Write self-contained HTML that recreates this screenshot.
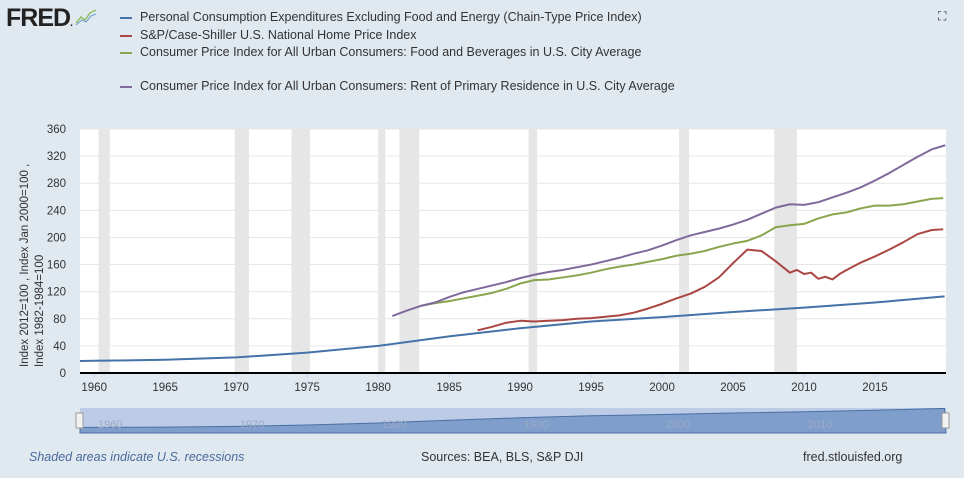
<!DOCTYPE html>
<html><head><meta charset="utf-8">
<style>
body{margin:0;width:964px;height:478px;background:#e1e9f0;font-family:"Liberation Sans",sans-serif;overflow:hidden;position:relative}
.leg{position:absolute;left:120px;font-size:12.5px;color:#333;white-space:nowrap}
.leg span{display:inline-block;width:12px;height:2px;vertical-align:middle;margin-right:8px}
</style></head><body>
<div style="position:absolute;left:6px;top:4px;font:bold 25px 'Liberation Sans',sans-serif;color:#222;letter-spacing:-1px">FRED<span style="font-size:10px">.</span><svg width="22" height="18" style="margin-left:3px"><polyline points="1,15 6,9 10,12 15,5 21,2" fill="none" stroke="#8fc160" stroke-width="1.5"/><polyline points="1,17 7,12 11,14 16,8 21,6" fill="none" stroke="#6a9ad0" stroke-width="1"/></svg></div>
<div class="leg" style="top:10px"><span style="background:#4572a7"></span>Personal Consumption Expenditures Excluding Food and Energy (Chain-Type Price Index)</div>
<div class="leg" style="top:28px"><span style="background:#aa4643"></span>S&amp;P/Case-Shiller U.S. National Home Price Index</div>
<div class="leg" style="top:45px"><span style="background:#89a54e"></span>Consumer Price Index for All Urban Consumers: Food and Beverages in U.S. City Average</div>
<div class="leg" style="top:79px"><span style="background:#80699b"></span>Consumer Price Index for All Urban Consumers: Rent of Primary Residence in U.S. City Average</div>
<div style="position:absolute;left:938px;top:9px;width:12px;height:12px;font-size:12px;color:#333">⛶</div>
<svg id="c" width="964" height="478" style="position:absolute;left:0;top:0"></svg>
<div style="position:absolute;left:29px;top:450px;font-size:12.5px;font-style:italic;color:#4a6a9a">Shaded areas indicate U.S. recessions</div>
<div style="position:absolute;left:421px;top:450px;font-size:12.5px;color:#333">Sources: BEA, BLS, S&amp;P DJI</div>
<div style="position:absolute;left:803px;top:450px;font-size:12.5px;color:#333">fred.stlouisfed.org</div>
<script>
const yTicks=[0,40,80,120,160,200,240,280,320,360];
const xTicks=[1960,1965,1970,1975,1980,1985,1990,1995,2000,2005,2010,2015];
const navTicks=[1960,1970,1980,1990,2000,2010];
const recessions=[[1960.3,1961.1],[1969.9,1970.9],[1973.9,1975.2],[1980.0,1980.5],[1981.5,1982.9],[1990.6,1991.2],[2001.2,2001.9],[2007.9,2009.5]];
const pceYears=[1959,1960,1965,1970,1975,1980,1985,1990,1995,2000,2005,2010,2015,2019.9];
const pceVals=[17.7,18,19.5,23,30,40,54,66,76,82.5,90,96.5,104,113];
const csYears=[1987,1988,1989,1990,1991,1992,1993,1994,1995,1996,1997,1998,1999,2000,2001,2002,2003,2004,2005,2006,2007,2008,2009,2009.5,2010,2010.5,2011,2011.5,2012,2012.5,2013,2014,2015,2016,2017,2018,2019,2019.8];
const csVals=[63,68,74,77,76,77,78,80,81,83,85,89,95,102,110,117,127,141,162,182,180,165,148,152,146,148,139,142,138,146,152,163,172,182,193,205,211,212];
const foodYears=[1983,1984,1985,1986,1987,1988,1989,1990,1991,1992,1993,1994,1995,1996,1997,1998,1999,2000,2001,2002,2003,2004,2005,2006,2007,2008,2009,2010,2011,2012,2013,2014,2015,2016,2017,2018,2019,2019.8];
const foodVals=[99,103,106,110,114,118,124,132,137,138,141,144,148,153,157,160,164,168,173,176,180,186,191,195,203,215,218,220,228,234,237,243,247,247,249,253,257,258];
const rentYears=[1981,1982,1983,1984,1985,1986,1987,1988,1989,1990,1991,1992,1993,1994,1995,1996,1997,1998,1999,2000,2001,2002,2003,2004,2005,2006,2007,2008,2009,2010,2011,2012,2013,2014,2015,2016,2017,2018,2019,2019.95];
const rentVals=[84,92,99,104,112,119,124,129,134,140,145,149,152,156,160,165,170,176,181,188,196,203,208,213,219,226,235,244,249,248,252,259,266,274,284,295,307,319,330,336];
const X0=80,X1=946,Y0=373,Y1=129,D0=1959,D1=2020;
const x=t=>X0+(t-D0)/(D1-D0)*(X1-X0);
const y=v=>Y0-v/360*(Y0-Y1);
const svg=document.getElementById('c');const NS='http://www.w3.org/2000/svg';
function mk(tag,attrs,parent){const e=document.createElementNS(NS,tag);for(const k in attrs)e.setAttribute(k,attrs[k]);(parent||svg).appendChild(e);return e;}
const bg=mk('rect',{x:X0,y:Y1,width:X1-X0,height:Y0-Y1,fill:'#fff'});


recessions.forEach(r=>{const e=mk('rect',{x:x(r[0]),y:Y1,width:x(r[1])-x(r[0]),height:Y0-Y1,fill:'#e6e6e6'});

});
yTicks.forEach(v=>{if(v>0){const g=mk('line',{x1:X0,x2:X1,y1:y(v),y2:y(v),stroke:'#e6e6e6'});

}
const t=mk('text',{x:66,y:y(v)+4,'text-anchor':'end','font-size':11.5,fill:'#333'});t.textContent=v;

});
xTicks.forEach(v=>{mk('line',{x1:x(v),x2:x(v),y1:Y0,y2:Y0+5,stroke:'#ccd6eb'});
const t=mk('text',{x:x(v),y:Y0+18,'text-anchor':'middle','font-size':11.5,fill:'#333'});t.textContent=v;

});
const ax=mk('line',{x1:X0,x2:X1,y1:Y0,y2:Y0,stroke:'#000','stroke-width':2});


const yt=mk('text',{transform:'translate(28,367) rotate(-90)','text-anchor':'start','font-size':11.5,fill:'#333'});


const t1=mk('tspan',{x:0,dy:0},yt);t1.textContent='Index 2012=100 , Index Jan 2000=100 ,';
const t2=mk('tspan',{x:0,dy:15},yt);t2.textContent='Index 1982-1984=100';
function line(ys,vs,col,name){const p=mk('polyline',{points:ys.map((t,i)=>x(t)+','+y(vs[i])).join(' '),fill:'none',stroke:col,'stroke-width':2,'stroke-linejoin':'round'});

}
line(pceYears,pceVals,'#4572a7','series-pce');
line(csYears,csVals,'#aa4643','series-case-shiller');
line(foodYears,foodVals,'#89a54e','series-cpi-food');
line(rentYears,rentVals,'#80699b','series-cpi-rent');
const NY0=408,NY1=433;
const nb=mk('rect',{x:X0,y:NY0,width:X1-X0,height:NY1-NY0,fill:'#bccbe6'});


const ny=v=>NY1-2-v/115*(NY1-NY0-2);
const pts=pceYears.map((t,i)=>x(t)+','+ny(pceVals[i])).join(' ');
const na=mk('polygon',{points:X0+','+NY1+' '+pts+' '+X1+','+NY1,fill:'#7f9ecb',stroke:'#4a6fa5','stroke-width':1});


navTicks.forEach(v=>{const t=mk('text',{x:x(v)+16,y:428,'text-anchor':'middle','font-size':11,fill:'#9aabc6'});t.textContent=v;

});
[[76],[942]].forEach(h=>{const r=mk('rect',{x:h[0],y:413,width:7,height:15,fill:'#f2f2f2',stroke:'#999'});

});
</script>
</body></html>
